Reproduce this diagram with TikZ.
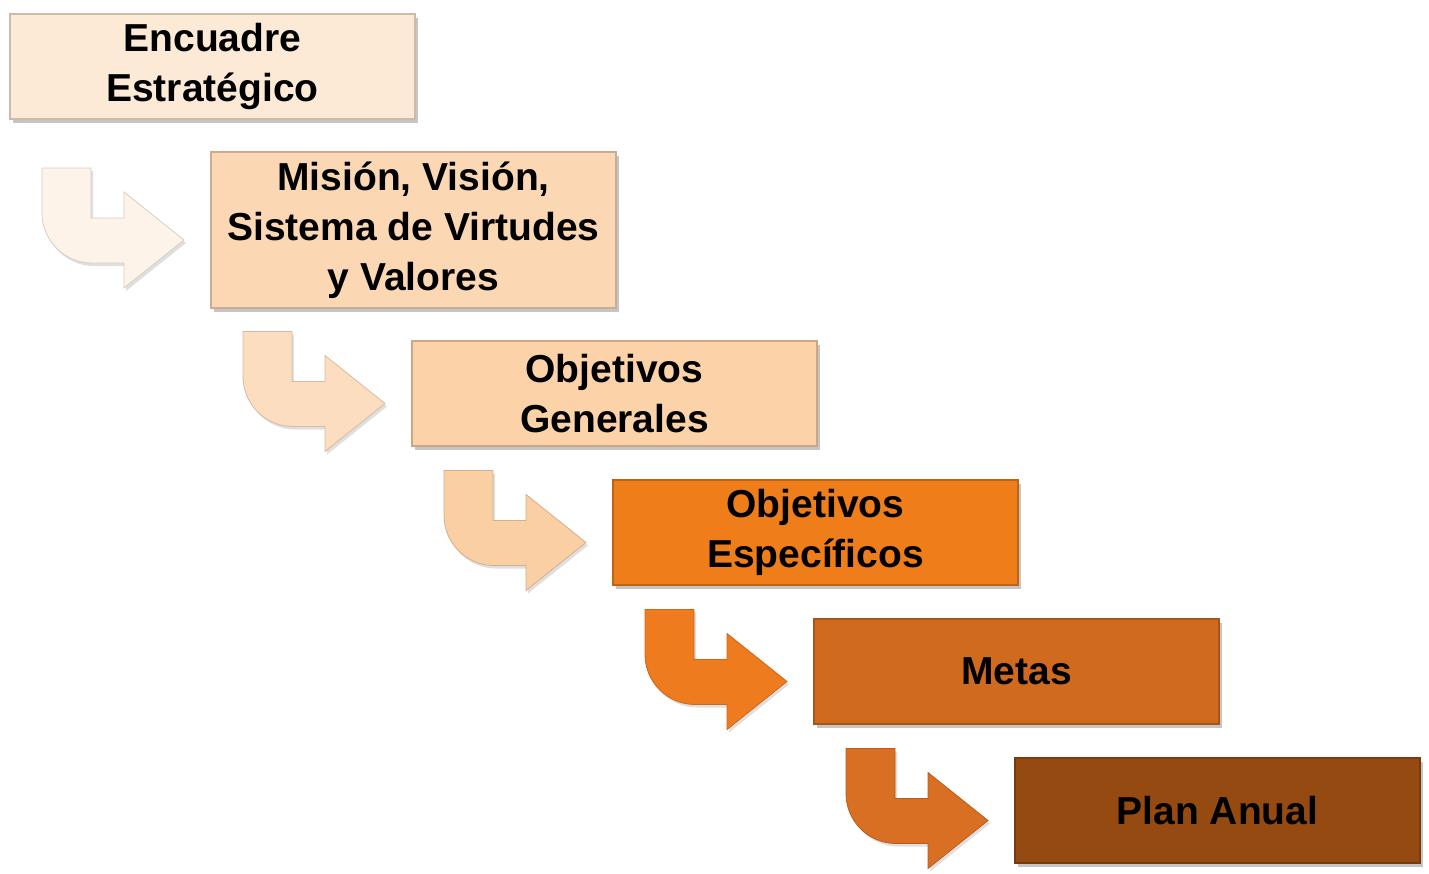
\documentclass[tikz,border=0pt]{standalone}
\usepackage{fontspec}
\setmainfont{Liberation Sans}
\usetikzlibrary{positioning}
\usetikzlibrary{calc}
\usetikzlibrary{shadows}

\definecolor{paso1}{HTML}{FCEAD6}
\definecolor{paso2}{HTML}{FCD7B4}
\definecolor{paso3}{HTML}{FCD2A9}
\definecolor{paso4}{HTML}{EF7D1A}
\definecolor{paso5}{HTML}{D06A1F}
\definecolor{paso6}{HTML}{954A12}
\definecolor{flecha1}{HTML}{FDF3E8}
\definecolor{flecha2}{HTML}{FCDDBF}
\definecolor{flecha3}{HTML}{F9CFA3}
\definecolor{flecha4}{HTML}{EE7B1E}
\definecolor{flecha5}{HTML}{D86F22}

\tikzset{
	paso/.style = {
		rectangle,
		align=center,
		inner sep=0pt,
		outer sep=0pt,
		text centered,
		anchor=north west,
		font=\bfseries\fontsize{39}{50}\selectfont,
		minimum width=405pt,
		minimum height=105pt,
		line width=1.2pt,
		drop shadow={shadow xshift=3pt, shadow yshift=-4pt, fill=black!45}
	},
	paso_p/.style = {
		paso,
		fill=#1,
		draw=#1!80!black
	},
	flecha/.style = {
		line width=0.8pt,
		drop shadow={shadow xshift=2pt, shadow yshift=-3pt, fill=black!25}
	},
}

% flecha doblada que entra por el lado izquierdo del paso
\newcommand{\flecha}[2]{%
	\filldraw[flecha, fill=#2, draw=#2!85!black, shift={($(#1.west)+(-27pt,-10pt)$)}]
		(-142,72) -- (-93,72) -- (-93,22) -- (-60,22) -- (-60,48) -- (0,0)
		-- (-60,-48) -- (-60,-23) -- (-92,-23)
		arc[start angle=270, end angle=180, radius=50] -- cycle;
}

\begin{document}
\begin{tikzpicture}[x=1pt, y=1pt]
\useasboundingbox (0,0) rectangle (1429,-873);
\node [paso_p=paso1] (encuadre) at (10,-14) {Encuadre\\Estratégico};
\node [paso_p=paso2, minimum height=156pt] (mision) at ($(encuadre.south west)+(201,-33)$) {Misión, Visión,\\Sistema de Virtudes\\y Valores};
\node [paso_p=paso3] (generales) at ($(mision.south west)+(201,-33)$) {Objetivos\\Generales};
\node [paso_p=paso4] (especificos) at ($(generales.south west)+(201,-34)$) {Objetivos\\Específicos};
\node [paso_p=paso5] (metas) at ($(especificos.south west)+(201,-34)$) {Metas};
\node [paso_p=paso6] (plan) at ($(metas.south west)+(201,-34)$) {Plan Anual};

\flecha{mision}{flecha1}
\flecha{generales}{flecha2}
\flecha{especificos}{flecha3}
\flecha{metas}{flecha4}
\flecha{plan}{flecha5}
\end{tikzpicture}
\end{document}
